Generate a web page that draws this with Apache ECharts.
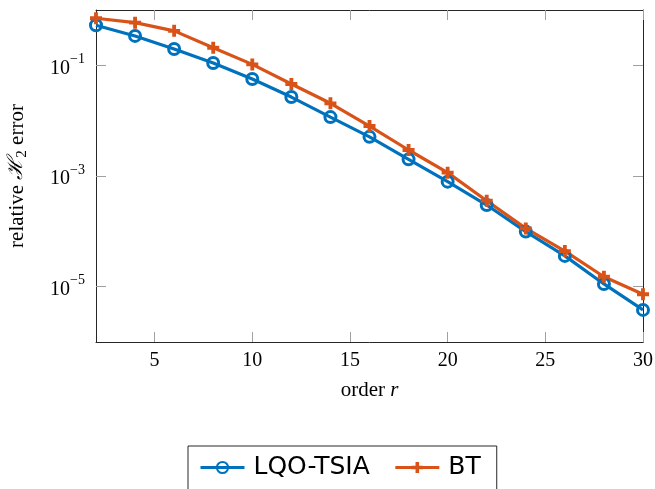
<!DOCTYPE html>
<html>
<head>
<meta charset="utf-8">
<script src="https://cdn.jsdelivr.net/npm/echarts@6/dist/echarts.min.js"></script>
<style>html,body{margin:0;padding:0;background:#fff}#c{width:655px;height:489px}</style>
</head>
<body>
<div id="c"></div>
<script>
const orders = [2, 4, 6, 8, 10, 12, 14, 16, 18, 20, 22, 24, 26, 28, 30];
const lqoTsia = [0.53, 0.34, 0.197, 0.11, 0.0565, 0.0267, 0.0116, 0.0051, 0.0020, 7.9e-4, 2.99e-4, 9.9e-5, 3.6e-5, 1.12e-5, 3.8e-6];
const bt = [0.71, 0.59, 0.42, 0.208, 0.104, 0.046, 0.0206, 0.0080, 0.00295, 0.00115, 3.58e-4, 1.13e-4, 4.4e-5, 1.51e-5, 7.3e-6];
const xTicks = [5, 10, 15, 20, 25, 30];
const yTicks = [1e-5, 1e-3, 1e-1];

const BLUE = '#0072BD', ORANGE = '#D95319';
const SERIF = '"Liberation Serif", "DejaVu Serif", serif';
const plusPath = 'path://M3.4,0H6.6V3.4H10V6.6H6.6V10H3.4V6.6H0V3.4H3.4Z';

const chart = echarts.init(document.getElementById('c'), null, {renderer: 'canvas'});

function pair(a) { return a.map((v, i) => [orders[i], v]); }

const tickStyle = {show: true, inside: true, length: 10, lineStyle: {color: '#a0a0a0', width: 1}};
const axisLineStyle = {show: true, lineStyle: {color: '#262626', width: 1}};

chart.setOption({
  animation: false,
  grid: {left: 96, right: 12, top: 10, height: 332, show: false, containLabel: false, outerBoundsMode: 'none'},
  legend: {
    left: 188, top: 446,
    padding: [9, 16, 30, 11],
    itemGap: 24,
    itemWidth: 44, itemHeight: 14,
    borderColor: '#262626', borderWidth: 1,
    lineStyle: {width: 3},
    textStyle: {fontFamily: '"DejaVu Sans", sans-serif', fontSize: 25, color: '#000', padding: [0, 0, 0, 4]},
    data: ['LQO-TSIA', 'BT']
  },
  xAxis: [{
    type: 'value', min: 2, max: 30, position: 'bottom',
    axisLine: axisLineStyle,
    axisTick: Object.assign({customValues: xTicks}, tickStyle),
    axisLabel: {customValues: xTicks, fontFamily: SERIF, fontSize: 20, color: '#000', margin: 9},
    splitLine: {show: false},
    name: '{n|order }{i|r}', nameLocation: 'middle', nameGap: 38,
    nameTextStyle: {rich: {n: {fontFamily: SERIF, fontSize: 21, color: '#000'}, i: {fontFamily: SERIF, fontStyle: 'italic', fontSize: 21, color: '#000'}}}
  }, {
    type: 'value', min: 2, max: 30, position: 'top',
    axisLine: axisLineStyle,
    axisTick: Object.assign({customValues: xTicks}, tickStyle),
    axisLabel: {show: false},
    splitLine: {show: false}
  }],
  yAxis: [{
    type: 'log', logBase: 10, min: 1e-6, max: 1, position: 'left',
    axisLine: axisLineStyle,
    axisTick: Object.assign({customValues: yTicks}, tickStyle),
    axisLabel: {
      customValues: yTicks, margin: 11,
      formatter: function (v) {
        const e = Math.round(Math.log10(v));
        return '{b|10}{s|' + (e < 0 ? '\u2212' + (-e) : e) + '}';
      },
      rich: {
        b: {fontFamily: SERIF, fontSize: 20, color: '#000', lineHeight: 26, verticalAlign: 'bottom'},
        s: {fontFamily: SERIF, fontSize: 14, color: '#000', lineHeight: 26, verticalAlign: 'top'}
      }
    },
    splitLine: {show: false},
    name: '{n|relative }{h|\u210B}{s|2}{n| error}', nameLocation: 'middle', nameGap: 66, nameRotate: 90,
    nameTextStyle: {rich: {
      n: {fontFamily: SERIF, fontSize: 21, color: '#000', lineHeight: 26, verticalAlign: 'middle'},
      h: {fontFamily: '"DejaVu Serif", serif', fontStyle: 'italic', fontSize: 21, color: '#000', lineHeight: 26, verticalAlign: 'middle'},
      s: {fontFamily: SERIF, fontSize: 15, color: '#000', lineHeight: 26, verticalAlign: 'bottom'}
    }}
  }, {
    type: 'log', logBase: 10, min: 1e-6, max: 1, position: 'right',
    axisLine: axisLineStyle,
    axisTick: Object.assign({customValues: yTicks}, tickStyle),
    axisLabel: {show: false},
    splitLine: {show: false}
  }],
  series: [{
    name: 'LQO-TSIA', type: 'line', data: pair(lqoTsia),
    xAxisIndex: 0, yAxisIndex: 0,
    symbol: 'circle', symbolSize: 11,
    lineStyle: {color: BLUE, width: 3.2},
    itemStyle: {color: 'rgba(255,255,255,0)', borderColor: BLUE, borderWidth: 3},
    emphasis: {disabled: true}
  }, {
    name: 'BT', type: 'line', data: pair(bt),
    xAxisIndex: 0, yAxisIndex: 0,
    symbol: plusPath, symbolSize: 12,
    lineStyle: {color: ORANGE, width: 3.2},
    itemStyle: {color: ORANGE, borderWidth: 0},
    emphasis: {disabled: true}
  }]
});
</script>
</body>
</html>
